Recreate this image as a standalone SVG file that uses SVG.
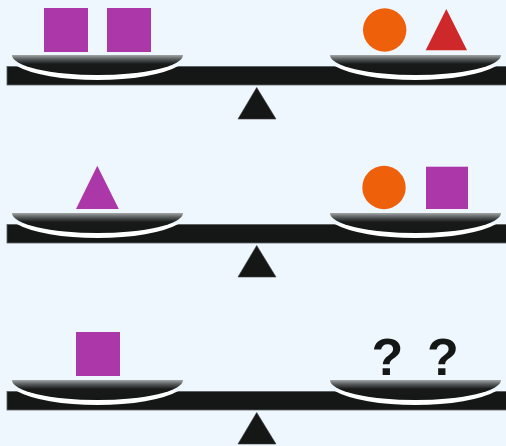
<svg xmlns="http://www.w3.org/2000/svg" xmlns:xlink="http://www.w3.org/1999/xlink" width="506" height="446" viewBox="0 0 506 446">
<style>
.beam{fill:#141716;stroke:#5d6162;stroke-width:0.8}
.fulcrum{fill:#141716;stroke:#3a3d3e;stroke-width:0.6}
.gap{fill:#ffffff}
.pan{fill:url(#panGrad)}
.purple{fill:#ab37a8}
.orange{fill:#ef600b}
.red{fill:#cf282b}
.q{font-family:"Liberation Sans",Arial,sans-serif;font-weight:bold;font-size:52px;fill:#141716;text-anchor:middle}
</style>
<defs>
<linearGradient id="panGrad" x1="0" y1="0" x2="0" y2="1">
<stop offset="0" stop-color="#a3a7a8"/>
<stop offset="0.2" stop-color="#5a5e5f"/>
<stop offset="0.45" stop-color="#181a1a"/>
<stop offset="1" stop-color="#141716"/>
</linearGradient>
<g id="panL">
<path class="gap" d="M16.7,66 A90,25 0 0 0 178.3,66 Z"/>
<path class="pan" d="M12,55 A85.5,20 0 0 0 183,55 Z"/>
</g>
<g id="balance">
<rect class="beam" x="7" y="66.4" width="500" height="18.6"/>
<use xlink:href="#panL"/>
<use xlink:href="#panL" transform="translate(318,0)"/>
<path class="fulcrum" d="M256.7,87.5 L276,119 L238,119 Z"/>
</g>
</defs>
<rect width="506" height="446" fill="#eef6fe"/>

<g id="scale1">
<use xlink:href="#balance"/>
<g id="s1-left">
<rect class="purple" x="44" y="8" width="44" height="44"/>
<rect class="purple" x="107" y="8" width="44" height="44"/>
</g>
<g id="s1-right">
<circle class="orange" cx="384.7" cy="30" r="21.7"/>
<path class="red" d="M446.3,9 L467,50.3 L425.7,50.3 Z"/>
</g>
</g>

<g id="scale2" transform="translate(0,158)">
<use xlink:href="#balance"/>
<g id="s2-left">
<path class="purple" d="M97.3,7.7 L118.8,51 L76,51 Z"/>
</g>
<g id="s2-right">
<circle class="orange" cx="384" cy="29.5" r="21.7"/>
<rect class="purple" x="426" y="8.7" width="42" height="42.3"/>
</g>
</g>

<g id="scale3" transform="translate(0,325)">
<use xlink:href="#balance"/>
<g id="s3-left">
<rect class="purple" x="76" y="7" width="44" height="44"/>
</g>
<g id="s3-right">
<text class="q" x="387.3" y="50">?</text>
<text class="q" x="443" y="50">?</text>
</g>
</g>
</svg>
